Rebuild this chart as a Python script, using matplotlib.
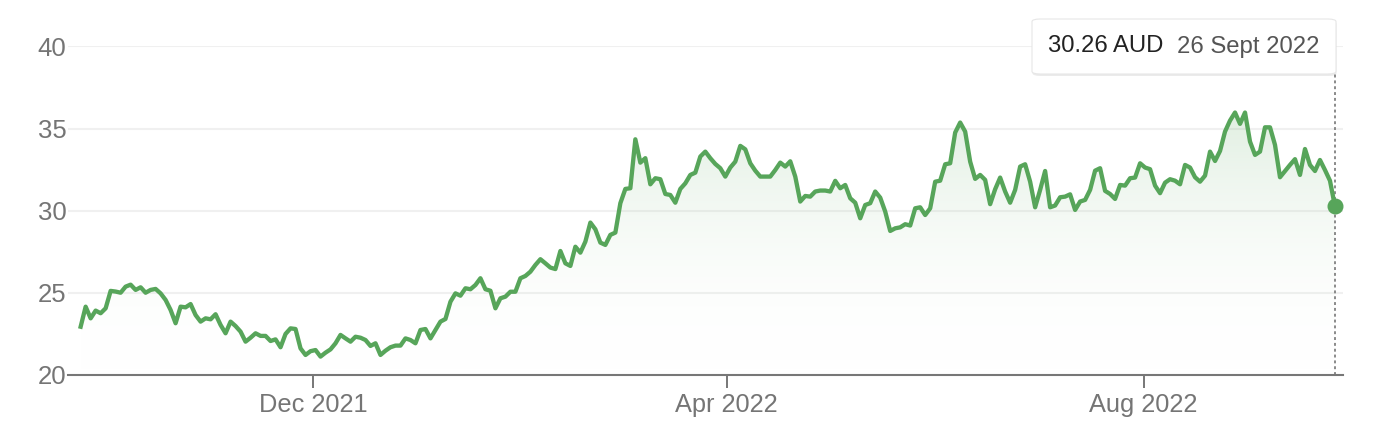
import numpy as np
import pandas as pd
import matplotlib
matplotlib.use("Agg")
import matplotlib.pyplot as plt
import matplotlib.dates as mdates
from matplotlib.colors import LinearSegmentedColormap
from matplotlib.patches import FancyBboxPatch

plt.rcParams['font.family'] = ['Liberation Sans', 'DejaVu Sans']

# ---- data ----
start_date = "2021-09-24"
end_date = "2022-09-26"
prices = [
    22.94, 24.16, 23.45, 23.92, 23.76, 24.06, 25.12, 25.08, 25.01, 25.38,
    25.50, 25.18, 25.34, 25.01, 25.18, 25.24, 24.97, 24.57, 23.96, 23.15,
    24.16, 24.12, 24.32, 23.65, 23.25, 23.45, 23.39, 23.70, 23.05, 22.54,
    23.25, 22.98, 22.64, 22.03, 22.27, 22.54, 22.38, 22.38, 22.07, 22.17,
    21.69, 22.50, 22.84, 22.80, 21.62,
    21.22, 21.45, 21.52, 21.12, 21.36, 21.56, 21.93, 22.44, 22.23, 22.03,
    22.33, 22.27, 22.13, 21.77, 21.93, 21.22, 21.48, 21.69, 21.79, 21.79,
    22.23, 22.13, 21.93, 22.74, 22.80, 22.23, 22.74, 23.25, 23.41, 24.46,
    24.97, 24.83, 25.28, 25.22, 25.48, 25.89, 25.22, 25.13, 24.06, 24.67,
    24.77, 25.07, 25.07, 25.89, 26.03, 26.29, 26.70, 27.05, 26.80, 26.54,
    26.45, 27.55,
    26.80, 26.64, 27.81, 27.45, 28.12, 29.28, 28.87, 28.06, 27.92, 28.53,
    28.67, 30.46, 31.33, 31.37, 34.35, 32.93, 33.20, 31.61, 31.98, 31.92,
    31.02, 30.96, 30.49, 31.33, 31.67, 32.18, 32.32, 33.30, 33.60, 33.20,
    32.85, 32.59, 32.08, 32.63, 32.99, 33.95, 33.74, 32.89, 32.44, 32.08,
    32.08, 32.08, 32.48, 32.93, 32.69, 33.01, 32.08, 30.56,
    30.90, 30.86, 31.17, 31.23, 31.23, 31.17, 31.82, 31.37, 31.57, 30.76,
    30.49, 29.54, 30.35, 30.46, 31.17, 30.80, 29.95, 28.77, 28.93, 28.99,
    29.18, 29.10, 30.15, 30.21, 29.74, 30.15, 31.77, 31.83, 32.83, 32.89,
    34.76, 35.37, 34.82, 32.99, 31.94, 32.18, 31.88, 30.40, 31.31, 32.02,
    31.17, 30.49, 31.27, 32.69, 32.83, 31.77, 30.21, 31.27, 32.42,
    30.21, 30.32, 30.82, 30.86, 31.00, 30.05, 30.56, 30.66, 31.27, 32.44,
    32.59, 31.21, 31.02, 30.72, 31.57, 31.53, 31.98, 32.02, 32.89, 32.63,
    32.53, 31.53, 31.07, 31.71, 31.92, 31.83, 31.61, 32.79, 32.63, 32.04,
    31.77, 32.14, 33.60, 33.03, 33.64, 34.82, 35.49, 35.98, 35.29, 35.98,
    34.21, 33.40, 33.60, 35.08, 35.08, 34.01, 32.04, 32.42, 32.79, 33.14,
    32.18, 33.76, 32.79, 32.42, 33.09, 32.48, 31.83, 30.26,
]
y_ticks = [20, 25, 30, 35, 40]
x_tick_dates = ["2021-12-01", "2022-04-01", "2022-08-01"]
x_tick_labels = ["Dec 2021", "Apr 2022", "Aug 2022"]
tooltip_value = "30.26 AUD"
tooltip_date = "26 Sept 2022"

dates = pd.date_range(start_date, end_date, periods=len(prices))
values = np.array(prices)

GREEN = "#57a55a"
GREY = "#757575"

fig = plt.figure(figsize=(13.74, 4.40), dpi=100)
ax = fig.add_axes([68 / 1374, 65 / 440, (1343 - 68) / 1374, (375 - 46.5) / 440])

xnum = mdates.date2num(dates)
x_left = mdates.date2num(pd.Timestamp("2021-12-01") - pd.Timedelta(days=71.7))
x_right = mdates.date2num(pd.Timestamp("2021-12-01") + pd.Timedelta(days=301.35))

# gradient fill under the line
cmap = LinearSegmentedColormap.from_list(
    "g", [(1, 1, 1, 0.0), (0.34, 0.65, 0.35, 0.18)])
grad = np.linspace(0, 1, 256).reshape(-1, 1)
im = ax.imshow(grad, extent=[xnum[0], xnum[-1], 20, values.max()],
               origin="lower", aspect="auto", cmap=cmap, zorder=1,
               interpolation="bilinear")
poly = ax.fill_between(xnum, values, 20, facecolor="none", edgecolor="none")
im.set_clip_path(poly.get_paths()[0], transform=ax.transData)

# grid
for yv in y_ticks[1:]:
    ax.axhline(yv, color="#f0f0f0", lw=1.5, zorder=0.5)

# dotted cursor line
ax.axvline(xnum[-1], color="#8a8a8a", lw=1.4, ls=(0, (1.5, 1.5)), zorder=2)

ax.plot(xnum, values, color=GREEN, lw=3.1, zorder=3, solid_joinstyle="round")
ax.plot([xnum[-1]], [values[-1]], "o", color=GREEN, ms=10.5, zorder=4,
        clip_on=False)

ax.set_xlim(x_left, x_right)
ax.set_ylim(20, 40)

ax.set_yticks(y_ticks)
ax.set_yticklabels([str(v) for v in y_ticks])
ax.set_xticks(mdates.date2num(pd.to_datetime(x_tick_dates)))
ax.set_xticklabels(x_tick_labels)

for s in ["top", "right", "left"]:
    ax.spines[s].set_visible(False)
ax.spines["bottom"].set_color("#777777")
ax.spines["bottom"].set_linewidth(1.5)
ax.spines["bottom"].set_zorder(5)

ax.tick_params(axis="y", length=0, pad=1, labelsize=18.5, labelcolor=GREY)
ax.tick_params(axis="x", length=9.5, width=1.4, color="#777777", pad=3.5,
               labelsize=18.3, labelcolor=GREY)

# tooltip
W, H = 1374, 440
bx0, by0, bx1, by1 = 1032, 19, 1336, 74
shadow = FancyBboxPatch(((bx0 + 0.5) / W, 1 - (by1 + 2) / H),
                        (bx1 - bx0) / W, (by1 - by0) / H,
                        boxstyle="round,pad=0,rounding_size=0.006",
                        transform=fig.transFigure, facecolor="#000000",
                        alpha=0.08, edgecolor="none", zorder=5)
fig.patches.append(shadow)
box = FancyBboxPatch((bx0 / W, 1 - by1 / H), (bx1 - bx0) / W, (by1 - by0) / H,
                     boxstyle="round,pad=0,rounding_size=0.006",
                     transform=fig.transFigure, facecolor="white",
                     edgecolor="#e6e6e6", lw=0.8, zorder=6)
fig.patches.append(box)
fig.text(1048 / W, 1 - 46.5 / H, tooltip_value, fontsize=17.2, color="#222222",
         va="center", ha="left", zorder=7)
fig.text(1177 / W, 1 - 46.5 / H, tooltip_date, fontsize=17.2, color="#555555",
         va="center", ha="left", zorder=7)

fig.savefig("out.png", dpi=100)
